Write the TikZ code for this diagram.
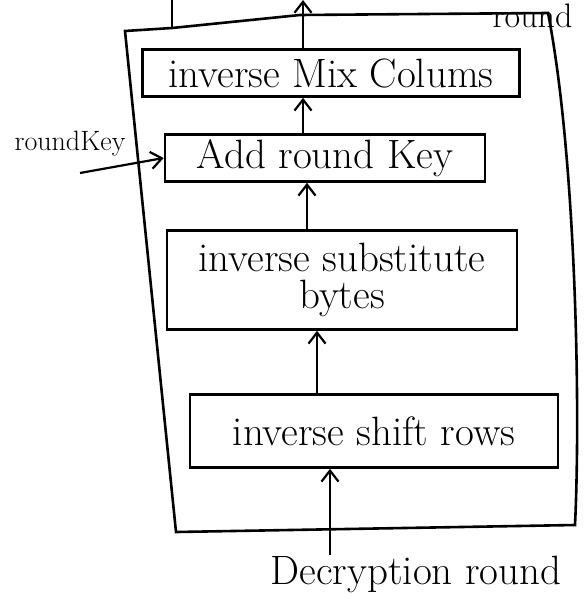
\documentclass[tikz,border=0pt]{standalone}
\usepackage{fontspec}
\usetikzlibrary{arrows.meta}
\begin{document}
\begin{tikzpicture}[x=1pt,y=-1pt,line width=2.6pt,
		blk/.style={draw, inner sep=0pt, align=center, font=\fontsize{41}{37}\selectfont},
		flow/.style={line width=2.2pt, -{Straight Barb[length=11pt,width=17pt]}}]
	\useasboundingbox (0,0) rectangle (586,599);
	
	% frame of one round
	\coordinate (tl) at (125,31);
	\coordinate (fbot) at (172,28);
	\coordinate (tr) at (548,13);
	\coordinate (br) at (575,525);
	\coordinate (bl) at (176,532);
	\draw (tl) -- (fbot) -- (300,15) -- (tr) .. controls (575,150) and (581,400) .. (br)
		-- (bl) -- cycle;
	
	\node[blk, minimum width=377pt, minimum height=47pt] (mix) at (331,73) {inverse Mix Colums};
	\node[blk, minimum width=320pt, minimum height=47pt] (addkey) at (325,158) {Add round Key};
	\node[blk, minimum width=350pt, minimum height=99pt] (sub) at (342,280) {inverse substitute\\bytes};
	\node[blk, minimum width=368pt, minimum height=73pt] (shift) at (374,431) {inverse shift rows};
	
	\node[font=\fontsize{28}{30}\selectfont] (key) at (70,144) {roundKey};
	\node[font=\fontsize{41}{43}\selectfont, anchor=base west] (dec) at (266,584) {Decryption round};
	\node[font=\fontsize{34}{36}\selectfont, anchor=base west] (rnd) at (488,28) {round};
	
	\coordinate (kin) at (80,173);
	\coordinate (din) at (330,555);
	\coordinate (dout) at (303,0);
	\coordinate (fout) at (172,0);
	
	\draw[flow] (din) -- (din |- shift.south);
	\draw[flow] (shift.north -| 317,0) -- (sub.south -| 317,0);
	\draw[flow] (sub.north -| 307,0) -- (addkey.south -| 307,0);
	\draw[flow] (addkey.north -| 303,0) -- (mix.south -| 303,0);
	\draw[flow] (mix.north -| dout) -- (dout);
	\draw[flow] (kin) -- (addkey.west);
	\draw (fbot) -- (fout);
	
\end{tikzpicture}
\end{document}
